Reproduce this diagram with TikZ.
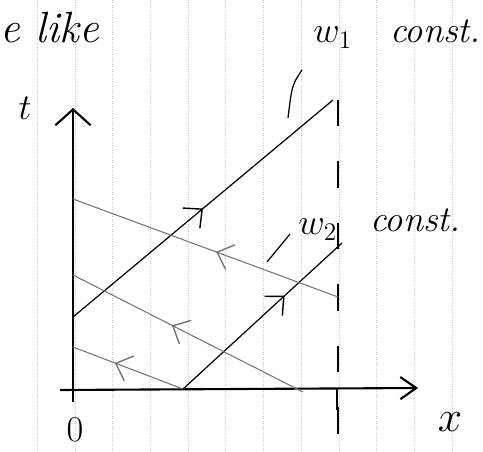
\documentclass[tikz,border=0pt]{standalone}
\usetikzlibrary{arrows.meta,decorations.markings}

\begin{document}
\begin{tikzpicture}[
    x=0.02cm, y=-0.02cm,
    axis/.style={draw=black, line width=1.2pt},
    wave/.style={draw=black, line width=0.7pt},
    back/.style={draw=black!55, line width=0.6pt},
    paper/.style={draw=black!22, densely dotted, line width=0.4pt},
    hand/.style={font=\huge\itshape, inner sep=0pt},
    midarrow/.style={postaction={decorate}, decoration={markings,
        mark=at position #1 with {\arrow[line width=0.8pt]{Straight Barb[length=8pt, width=15pt]}}}}
]
\useasboundingbox (0,0) rectangle (483,452);

% Paper grid
\foreach \i in {0,...,11}
  \draw[paper] ({37.3+37.7*\i},0) -- ({37.3+37.7*\i},452);

% End points
\coordinate (o) at (73,389);
\coordinate (tbot) at (73,402);
\coordinate (ttop) at (73,108);
\coordinate (xleft) at (60,390);
\coordinate (xright) at (418,388);
\coordinate (ltop) at (338,100);
\coordinate (lbot) at (338,452);
\coordinate (ltick) at (337,410);
\coordinate (lx) at (337,389);
\coordinate (a1) at (73,317);
\coordinate (a2) at (333,100);
\coordinate (b1) at (183,389);
\coordinate (b2) at (342,243);
\coordinate (c1) at (338,297);
\coordinate (c1e) at (73,199);
\coordinate (c2) at (303,392);
\coordinate (c2e) at (73,275);
\coordinate (c3e) at (73,347);

% Axes
\draw[axis, -{Straight Barb[length=9pt, width=20pt]}] (tbot) -- (ttop);
\draw[axis, -{Straight Barb[length=9pt, width=20pt, angle'=70]}] (xleft) -- (xright);
\draw[axis, dash pattern=on 15 off 20] (ltop) -- (lbot);
\draw[axis] (lx) -- (ltick);

% Right-going lines
\draw[wave, midarrow=0.5] (a1) -- (a2);
\draw[wave, midarrow=0.64] (b1) -- (b2);

% Left-going lines
\draw[back, midarrow=0.46] (c1) -- (c1e);
\draw[back, midarrow=0.57] (c2) -- (c2e);
\draw[back, midarrow=0.62] (b1) -- (c3e);

% Pointer strokes
\coordinate (p1a) at (302,70);
\coordinate (p1b) at (288,118);
\coordinate (p2a) at (290,234);
\coordinate (p2b) at (267,262);
\draw[wave] (p1a) .. controls (292,85) .. (p1b);
\draw[wave] (p2a) -- (p2b);

% Labels
\node[hand, font=\Huge\itshape, anchor=base west] (like) at (0,43) {e like};
\node[hand, anchor=base west] (w1) at (313,43) {$w_1$};
\node[hand, anchor=base west] (c1lab) at (390,43) {const.};
\node[hand] (tlab) at (25,108) {$t$};
\node[hand, anchor=base west] (w2) at (298,235) {$w_2$};
\node[hand, anchor=base west] (c2lab) at (370,232) {const.};
\node[hand] (zero) at (75,430) {$0$};
\node[hand, font=\Huge] (xlab) at (450,422) {$x$};

\end{tikzpicture}
\end{document}
